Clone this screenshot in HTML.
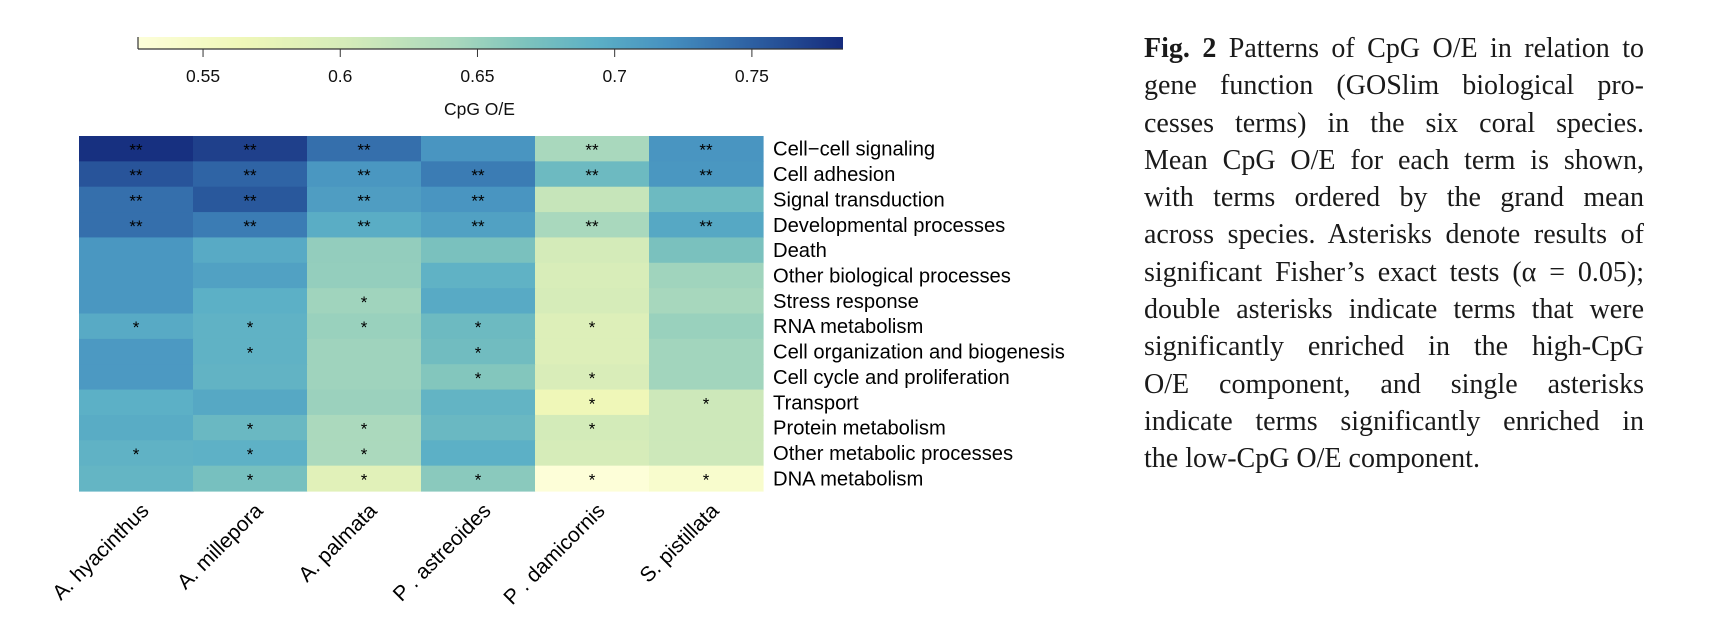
<!DOCTYPE html>
<html><head><meta charset="utf-8"><style>
html,body{margin:0;padding:0;background:#fff;width:1732px;height:632px;overflow:hidden}
#cap{position:absolute;left:1144px;top:30px;width:500px;font-family:"Liberation Serif",serif;font-size:28px;line-height:37.3px;color:#1a1a1a}
#cap div{text-align:justify;text-align-last:justify;white-space:nowrap}
#cap div.last{text-align-last:left}
</style></head><body>
<svg id="chart" width="1732" height="632" style="position:absolute;left:0;top:0" xmlns="http://www.w3.org/2000/svg" font-family="Liberation Sans, sans-serif"></svg>
<div id="cap">
<div><b>Fig. 2</b> Patterns of CpG O/E in relation to</div>
<div>gene function (GOSlim biological pro-</div>
<div>cesses terms) in the six coral species.</div>
<div>Mean CpG O/E for each term is shown,</div>
<div>with terms ordered by the grand mean</div>
<div>across species. Asterisks denote results of</div>
<div>significant Fisher’s exact tests (α = 0.05);</div>
<div>double asterisks indicate terms that were</div>
<div>significantly enriched in the high-CpG</div>
<div>O/E component, and single asterisks</div>
<div>indicate terms significantly enriched in</div>
<div class="last">the low-CpG O/E component.</div>
</div>
<script>
const species = ["A. hyacinthus","A. millepora","A. palmata","P . astreoides","P . damicornis","S. pistillata"];
const terms = ["Cell\u2212cell signaling","Cell adhesion","Signal transduction","Developmental processes","Death","Other biological processes","Stress response","RNA metabolism","Cell organization and biogenesis","Cell cycle and proliferation","Transport","Protein metabolism","Other metabolic processes","DNA metabolism"];
const values = [
[0.780,0.770,0.740,0.716,0.642,0.716],
[0.757,0.747,0.714,0.732,0.680,0.714],
[0.740,0.755,0.709,0.716,0.616,0.680],
[0.740,0.732,0.696,0.706,0.642,0.700],
[0.714,0.698,0.655,0.670,0.603,0.670],
[0.714,0.706,0.654,0.690,0.598,0.647],
[0.714,0.693,0.647,0.698,0.600,0.643],
[0.698,0.690,0.651,0.680,0.590,0.651],
[0.712,0.690,0.648,0.677,0.590,0.646],
[0.712,0.689,0.648,0.664,0.596,0.646],
[0.693,0.700,0.650,0.688,0.565,0.610],
[0.697,0.682,0.640,0.682,0.604,0.610],
[0.690,0.692,0.640,0.693,0.600,0.610],
[0.687,0.672,0.585,0.660,0.527,0.540]];
const signif = [
[2,2,2,0,2,2],[2,2,2,2,2,2],[2,2,2,2,0,0],[2,2,2,2,2,2],
[0,0,0,0,0,0],[0,0,0,0,0,0],[0,0,1,0,0,0],[1,1,1,1,1,0],
[0,1,0,1,0,0],[0,0,0,1,1,0],[0,0,0,0,1,1],[0,1,1,0,1,0],
[1,1,1,0,0,0],[0,1,1,1,1,1]];
const ticks = [0.55,0.6,0.65,0.7,0.75];
const vmin = 0.5263, vmax = 0.7832;

const svg = document.getElementById('chart');
const NS = "http://www.w3.org/2000/svg";
function mk(t, a){const e=document.createElementNS(NS,t);for(const k in a)e.setAttribute(k,a[k]);svg.appendChild(e);return e;}
const stops=[[0,[253,254,217]],[0.15,[239,247,184]],[0.3,[212,235,185]],[0.45,[169,216,189]],[0.55,[125,195,189]],[0.65,[92,176,198]],[0.75,[70,145,192]],[0.85,[49,104,168]],[1,[21,43,124]]];
function col(v){let f=Math.max(0,Math.min(1,(v-vmin)/(vmax-vmin)));
 for(let i=1;i<stops.length;i++){if(f<=stops[i][0]){const a=stops[i-1],b=stops[i];const t=(f-a[0])/(b[0]-a[0]);
 const c=a[1].map((x,j)=>Math.round(x+(b[1][j]-x)*t));return `rgb(${c})`;}}return 'rgb(21,43,124)';}
const cbL=138,cbR=843,cbT=37,cbB=49;
const cx=v=>cbL+(v-vmin)/(vmax-vmin)*(cbR-cbL);
const defs=mk('defs',{});const lg=document.createElementNS(NS,'linearGradient');lg.setAttribute('id','g');defs.appendChild(lg);
stops.forEach(s=>{const st=document.createElementNS(NS,'stop');st.setAttribute('offset',s[0]);st.setAttribute('stop-color',`rgb(${s[1]})`);lg.appendChild(st);});
const cb=mk('rect',{x:cbL,y:cbT,width:cbR-cbL,height:cbB-cbT,fill:'url(#g)'});


mk('line',{x1:cbL,y1:cbT,x2:cbL,y2:cbB,stroke:'#333','stroke-width':1.2});
const ax=mk('line',{x1:cbL,y1:cbB,x2:cbR,y2:cbB,stroke:'#333','stroke-width':1.2});


ticks.forEach(t=>{const x=cx(t);mk('line',{x1:x,y1:cbB,x2:x,y2:cbB+8,stroke:'#333','stroke-width':1});
 const tl=mk('text',{x:x,y:82,'font-size':17.5,'text-anchor':'middle',fill:'#111'});tl.textContent=String(t);
 
 });
const ct=mk('text',{x:cx(0.65)+2,y:115,'font-size':17.5,'text-anchor':'middle',fill:'#111'});ct.textContent='CpG O/E';


const hL=79,hT=136,cw=114,rh=355/14;
values.forEach((row,r)=>row.forEach((v,c)=>{
 const rc=mk('rect',{x:hL+c*cw,y:hT+r*rh,width:cw+0.6,height:rh+0.6,fill:col(v)});
 
 
 const s=signif[r][c];
 if(s){const st=mk('text',{x:hL+c*cw+cw/2,y:hT+r*rh+rh/2+7,'font-size':17,'text-anchor':'middle',fill:'#000'});st.textContent=s===2?'**':'*';
 
 }
}));
terms.forEach((t,r)=>{const tx=mk('text',{x:773,y:hT+r*rh+rh/2+7,'font-size':20.2,fill:'#000'});tx.textContent=t;
 
 });
species.forEach((s,c)=>{const x=hL+c*cw+cw/2+14,y=512;
 const tx=mk('text',{x:x,y:y,'font-size':21,'text-anchor':'end',fill:'#000',transform:`rotate(-45 ${x} ${y})`});tx.textContent=s;
 
 });
</script>
</body></html>
